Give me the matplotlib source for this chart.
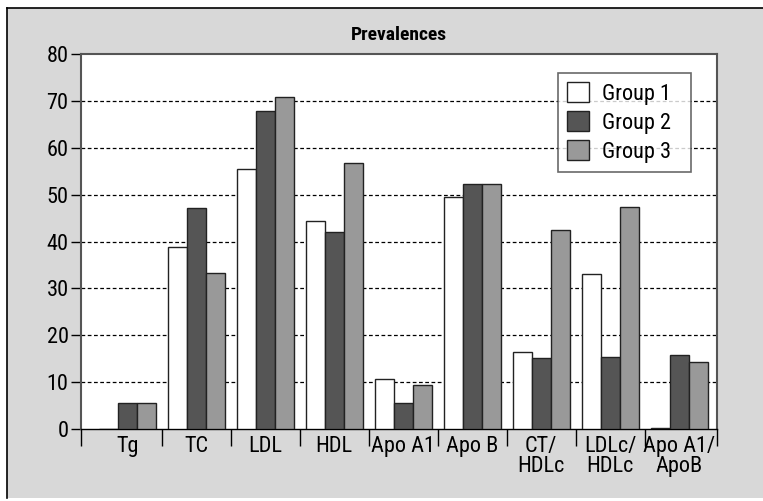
import numpy as np
import matplotlib
matplotlib.use("Agg")
import matplotlib.pyplot as plt
from matplotlib.patches import Rectangle
from matplotlib.lines import Line2D

# --- data -------------------------------------------------------------------
categories = ["Tg", "TC", "LDL", "HDL", "Apo A1", "Apo B",
              "CT/\nHDLc", "LDLc/\nHDLc", "Apo A1/\nApoB"]
group1 = [0.0, 38.8, 55.4, 44.3, 10.6, 49.5, 16.5, 33.0, 0.3]
group2 = [5.5, 47.1, 67.8, 42.0, 5.5, 52.3, 15.2, 15.4, 15.7]
group3 = [5.5, 33.3, 70.8, 56.7, 9.3, 52.3, 42.5, 47.3, 14.2]
series_names = ["Group 1", "Group 2", "Group 3"]
yticks = [0, 10, 20, 30, 40, 50, 60, 70, 80]

FONT = ["Roboto Condensed", "DejaVu Sans"]
BG = "#d8d8d8"
colors = ["#ffffff", "#555555", "#999999"]

fig = plt.figure(figsize=(7.63, 5.01), dpi=100)
fig.patch.set_facecolor("white")

# gray panel with black top/left border
fig.patches.append(Rectangle((7 / 763, 3 / 501), 756 / 763, 490 / 501,
                             transform=fig.transFigure, facecolor=BG,
                             edgecolor="none", zorder=-10))
fig.lines.append(Line2D([7 / 763, 7 / 763], [3 / 501, 493 / 501],
                        transform=fig.transFigure, color="black", lw=1.2))
fig.lines.append(Line2D([7 / 763, 763 / 763], [493 / 501, 493 / 501],
                        transform=fig.transFigure, color="black", lw=1.2))

ax = fig.add_axes([81 / 763, 72 / 501, 636 / 763, 375 / 501])
ax.set_facecolor("white")

x = np.arange(len(categories))
w = 0.275
for i, (vals, col, name) in enumerate(zip([group1, group2, group3], colors, series_names)):
    ax.bar(x + (i - 1) * w, vals, width=w, color=col, edgecolor="#222222",
           linewidth=1.0, label=name, zorder=3)

ax.set_xlim(-0.67, len(categories) - 0.45)
ax.set_ylim(0, 80)

ax.set_yticks(yticks)
ax.set_yticklabels([str(t) for t in yticks], fontsize=16, family=FONT)
for t in yticks[1:-1]:
    ax.axhline(t, color="black", lw=0.9, ls=(0, (3, 2)), zorder=1)

ax.set_xticks(x)
ax.set_xticklabels(categories, fontsize=16, family=FONT, linespacing=0.95)
ax.tick_params(axis="x", which="major", length=0, pad=5)
ax.set_xticks(np.concatenate([[-0.67], x[:-1] + 0.5, [len(categories) - 0.45]]), minor=True)
ax.tick_params(axis="x", which="minor", length=12, width=1.0, color="black")
ax.tick_params(axis="y", length=7, width=1.0, color="black", pad=2)

for side in ["left", "bottom", "top", "right"]:
    ax.spines[side].set_color("#555555")
    ax.spines[side].set_linewidth(1.5)
ax.spines["bottom"].set_color("black")
ax.spines["bottom"].set_linewidth(1.0)

ax.set_title("Prevalences", fontsize=14, fontweight="bold", family=FONT, pad=10)

# legend box: wide frame with the entries left-aligned, as in the original
leg = ax.legend(loc="upper left", bbox_to_anchor=(0.75, 0.70, 0.209, 0.249),
                mode="expand",
                prop={"family": FONT, "size": 16}, frameon=True, fancybox=False,
                borderpad=0.4, labelspacing=0.3, handlelength=1.0,
                handleheight=1.0, handletextpad=0.6, borderaxespad=0)
leg.get_frame().set_edgecolor("#444444")
leg.get_frame().set_linewidth(1.2)
leg.set_zorder(5)

fig.savefig("out.png", dpi=100, facecolor=fig.get_facecolor())
